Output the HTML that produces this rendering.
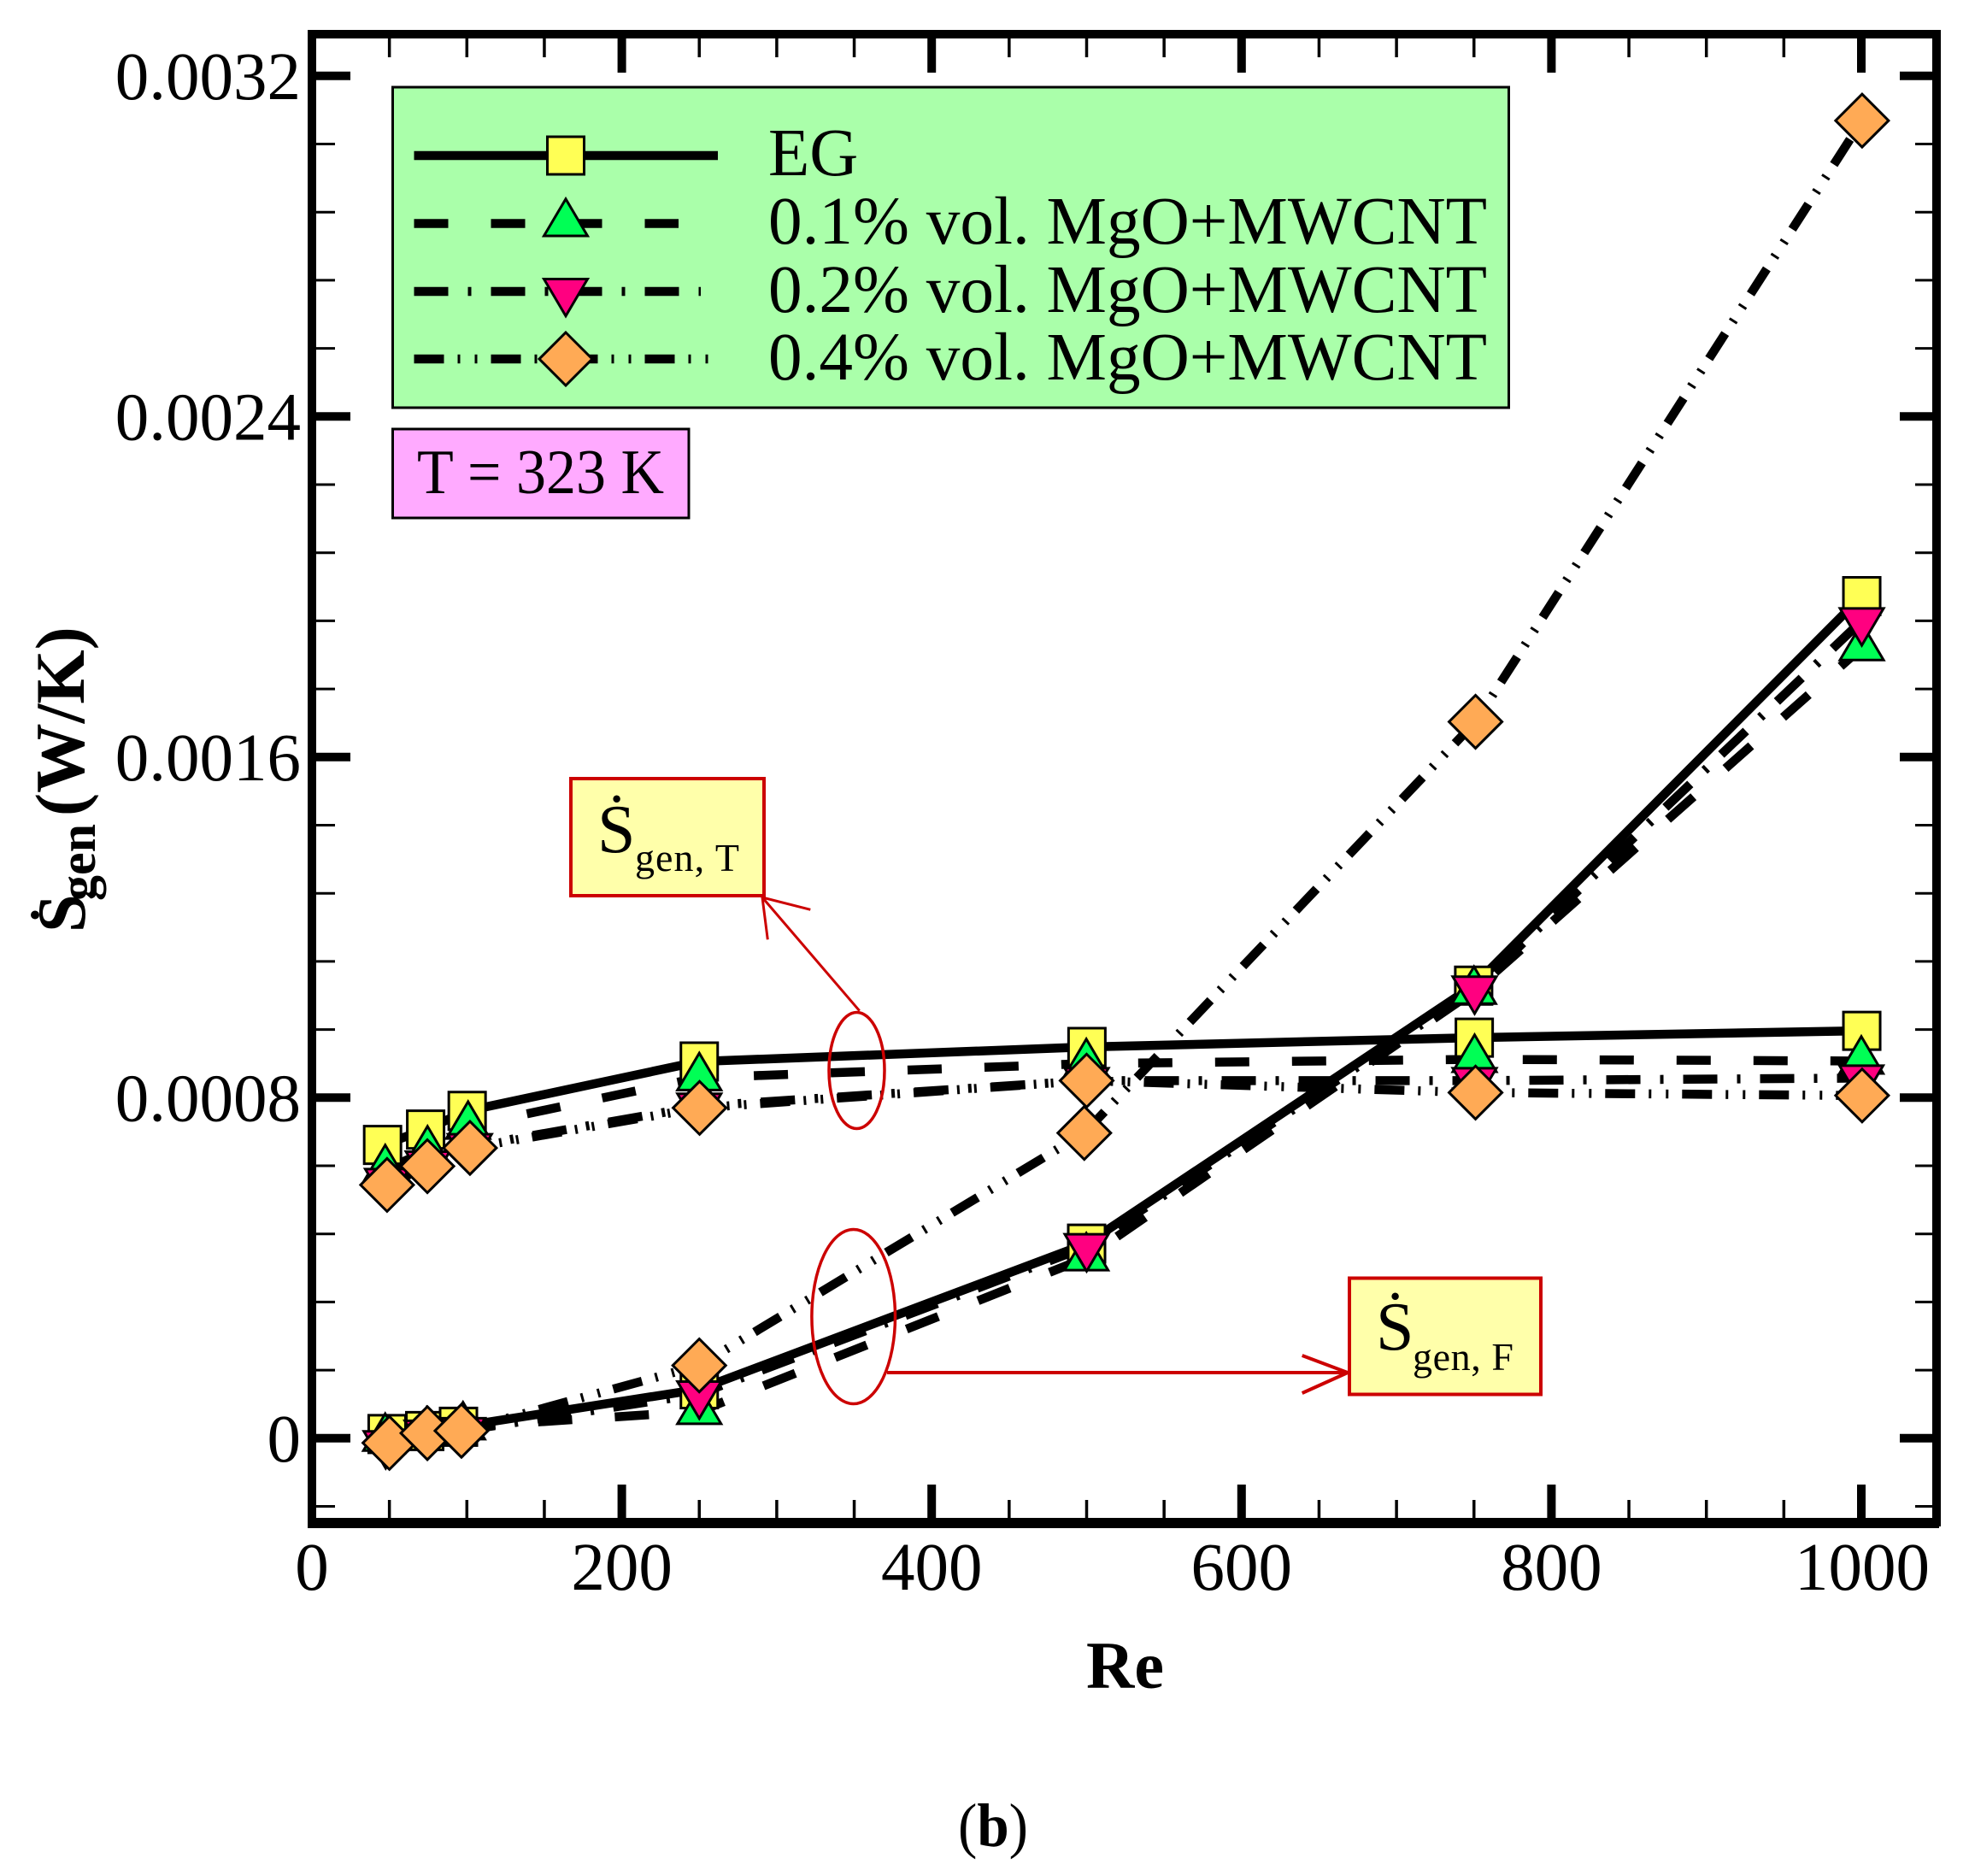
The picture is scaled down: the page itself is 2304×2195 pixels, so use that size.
<!DOCTYPE html>
<html lang="en">
<head>
<meta charset="utf-8">
<title>Entropy generation vs Re</title>
<style>
html,body{margin:0;padding:0;background:#fff;}
svg{display:block;font-family:"Liberation Serif","Times New Roman",serif;fill:#000;}
</style>
</head>
<body>
<svg id="chart" xmlns="http://www.w3.org/2000/svg" width="2304" height="2195" viewBox="0 0 2304 2195">
  <rect x="0" y="0" width="2304" height="2195" fill="#ffffff"/>
  <g id="ticks"></g>
  <g id="tick-labels" font-size="79"></g>
  <g id="lines" fill="none"></g>
  <g id="markers" stroke="#000" stroke-width="3"></g>

  <g fill="#000">
    <rect x="360" y="35" width="1911" height="10"/>
    <rect x="360" y="1776" width="1909" height="12"/>
    <rect x="360" y="35" width="10" height="1751"/>
    <rect x="2261" y="35" width="10" height="1751"/>
  </g>

  <g>
    <rect x="459.500" y="102" width="1306" height="375" fill="#AAFFAA" stroke="#000" stroke-width="3"/>
    <g id="legend-samples"></g>
    <text x="899" y="205" font-size="79">EG</text>
    <text x="899" y="285" font-size="79" textLength="841" lengthAdjust="spacingAndGlyphs">0.1% vol. MgO+MWCNT</text>
    <text x="899" y="365" font-size="79" textLength="841" lengthAdjust="spacingAndGlyphs">0.2% vol. MgO+MWCNT</text>
    <text x="899" y="444" font-size="79" textLength="841" lengthAdjust="spacingAndGlyphs">0.4% vol. MgO+MWCNT</text>
  </g>

  <g>
    <rect x="459.500" y="502" width="346.500" height="104" fill="#FFAAFF" stroke="#000" stroke-width="3"/>
    <text x="488" y="577" font-size="74" textLength="289" lengthAdjust="spacingAndGlyphs">T = 323 K</text>
  </g>

  <g fill="none" stroke="#CC0000">
    <ellipse cx="1002.500" cy="1252.500" rx="32.500" ry="68" stroke-width="3.500"/>
    <path d="M1005.700 1182.700L892 1050M948.300 1064.300L892 1050L898.300 1099.300" stroke-width="3"/>
    <rect x="668" y="911" width="226" height="137" fill="#FFFFAA" stroke-width="4"/>
    <text x="699" y="997" font-size="80" fill="#000" stroke="none">Ṡ</text>
    <text x="743" y="1019" font-size="46" fill="#000" stroke="none" xml:space="preserve" textLength="122" lengthAdjust="spacing">gen, T</text>
  </g>

  <g fill="none" stroke="#CC0000">
    <ellipse cx="998.700" cy="1540.500" rx="48.800" ry="102" stroke-width="3.500"/>
    <path d="M1038 1606H1577M1523.700 1586L1577 1606L1523.700 1630" stroke-width="4"/>
    <rect x="1579" y="1495.500" width="224" height="136" fill="#FFFFAA" stroke-width="4"/>
    <text x="1610" y="1579" font-size="80" fill="#000" stroke="none">Ṡ</text>
    <text x="1653" y="1603" font-size="46" fill="#000" stroke="none" xml:space="preserve" textLength="118" lengthAdjust="spacing">gen, F</text>
  </g>

  <g font-weight="bold">
    <text transform="translate(99 1091) rotate(-90)" font-size="80">S</text>
    <circle cx="41" cy="1070.500" r="5"/>
    <text transform="translate(111 1054) rotate(-90)" font-size="60">gen</text>
    <text transform="translate(98 955) rotate(-90)" font-size="81.500">(W/K)</text>
  </g>
  <text x="1271" y="1975" font-size="78">
    <tspan font-weight="bold">Re</tspan>
  </text>
  <text x="1121" y="2160" font-size="72" textLength="82" lengthAdjust="spacingAndGlyphs">(<tspan font-weight="bold">b</tspan>)</text>
</svg>
<script>
// ---------- chart data ----------
var xMajorTicks = [0, 200, 400, 600, 800, 1000];
var xMinorTicks = [50, 100, 150, 250, 300, 350, 450, 500, 550, 650, 700, 750, 850, 900, 950];
var yMajorTicks = [0, 0.0008, 0.0016, 0.0024, 0.0032];
var yMinorTicks = [-0.00016, 0.00016, 0.00032, 0.00048, 0.00064, 0.00096, 0.00112, 0.00128, 0.00144, 0.00176, 0.00192, 0.00208, 0.00224, 0.00256, 0.00272, 0.00288, 0.00304];
var xTickLabels = ['0', '200', '400', '600', '800', '1000'];
var yTickLabels = ['0', '0.0008', '0.0016', '0.0024', '0.0032'];

// Thermal entropy generation (upper group)
var thermalReEG = [45.6, 73.4, 100.2, 250, 500.2, 750.2, 1000.3];
var thermalEG   = [0.000689, 0.000725, 0.000769, 0.000885, 0.000919, 0.000941, 0.000957];
var thermalRe01 = [47.3, 74.6, 100.8, 250, 499.8, 750.4, 1000];
var thermal01   = [0.000631, 0.000675, 0.000733, 0.000847, 0.00088, 0.00089, 0.000886];
var thermalRe02 = [48.5, 74.8, 101.9, 250, 500, 750.4, 1000];
var thermal02   = [0.000603, 0.000644, 0.000685, 0.00078, 0.00084, 0.00084, 0.000846];
var thermalRe04 = [48.5, 74.5, 102, 250.2, 500, 751, 1000.5];
var thermal04   = [0.000595, 0.000639, 0.000682, 0.000776, 0.00084, 0.000812, 0.000805];

// Fluid-friction entropy generation (lower group)
var frictionReEG = [48.5, 72.8, 94.6, 250, 500, 749.8, 1000.3];
var frictionEG   = [0.00001, 0.000017, 0.000027, 0.000115, 0.000457, 0.001063, 0.001978];
var frictionRe01 = [47.3, 74, 97.5, 250, 499.8, 750, 1000.3];
var friction01   = [0, 0.000015, 0.000027, 0.000063, 0.000424, 0.00105, 0.001857];
var frictionRe02 = [47.6, 74, 97.6, 250, 500, 750.4, 1000.3];
var friction02   = [-0.000013, 0.000012, 0.000018, 0.000104, 0.00045, 0.001055, 0.00192];
var frictionRe04 = [50, 74.5, 96.5, 250, 498.5, 751, 1000.5];
var friction04   = [-0.000011, 0.000012, 0.0000175, 0.000171, 0.000717, 0.001683, 0.003095];

// ---------- axis functions ----------
function xScale(re) { return 365 + 1.813 * re; }
function yScale(v) { return 1682.8 - 498125 * v; }

var SVGNS = 'http://www.w3.org/2000/svg';
function make(tag, geometry, parent) {
  var node = document.createElementNS(SVGNS, tag);
  for (var key in geometry) { node.setAttribute(key, geometry[key]); }
  parent.appendChild(node);
  return node;
}

var styles = {
  eg: { dash: 'none', fill: '#FFFF55', shape: 'square' },
  v01: { dash: '40 50', fill: '#00FF55', shape: 'up' },
  v02: { dash: '40 23 4 23', fill: '#FF0080', shape: 'down' },
  v04: { dash: '35 16 3 17 3 16', fill: '#FFAA55', shape: 'diamond' }
};

function markerPath(shape, x, y) {
  if (shape === 'square') {
    return 'M' + (x - 21.5) + ' ' + (y - 22) + 'H' + (x + 21.5) + 'V' + (y + 22) + 'H' + (x - 21.5) + 'Z';
  }
  if (shape === 'up') {
    return 'M' + x + ' ' + (y - 28.7) + 'L' + (x + 25.5) + ' ' + (y + 14.5) + 'H' + (x - 25.5) + 'Z';
  }
  if (shape === 'down') {
    return 'M' + x + ' ' + (y + 28.7) + 'L' + (x + 25.5) + ' ' + (y - 14.5) + 'H' + (x - 25.5) + 'Z';
  }
  return 'M' + x + ' ' + (y - 31) + 'L' + (x + 31) + ' ' + y + 'L' + x + ' ' + (y + 31) + 'L' + (x - 31) + ' ' + y + 'Z';
}

// ---------- ticks ----------
var tickGroup = document.getElementById('ticks');
var labelGroup = document.getElementById('tick-labels');

function addXTick(re, top, bottom, width, kind) {
  var x = xScale(re);
  var a = make('line', { x1: x, x2: x, y1: top, y2: bottom, stroke: '#000', 'stroke-width': width }, tickGroup);
  
  
}
function addYTick(v, left, right, width, kind) {
  var y = yScale(v);
  var a = make('line', { x1: left, x2: right, y1: y, y2: y, stroke: '#000', 'stroke-width': width }, tickGroup);
  
  
}
xMajorTicks.forEach(function (re) {
  addXTick(re, 1737, 1776, 10, 'major');
  addXTick(re, 45, 85, 10, 'major-top');
});
xMinorTicks.forEach(function (re) {
  addXTick(re, 1755, 1776, 3.5, 'minor');
  addXTick(re, 45, 67, 3.5, 'minor-top');
});
yMajorTicks.forEach(function (v) {
  addYTick(v, 370, 410, 10, 'major');
  addYTick(v, 2223, 2261, 10, 'major-right');
});
yMinorTicks.forEach(function (v) {
  addYTick(v, 370, 392, 3, 'minor');
  addYTick(v, 2241, 2261, 3, 'minor-right');
});

xMajorTicks.forEach(function (re, i) {
  var t = make('text', { x: xScale(re) + (re === 1000 ? 1 : 0), y: 1860, 'text-anchor': 'middle' }, labelGroup);
  t.textContent = xTickLabels[i];
  
  
});
yMajorTicks.forEach(function (v, i) {
  var t = make('text', { x: 352, y: yScale(v) + 27, 'text-anchor': 'end' }, labelGroup);
  t.textContent = yTickLabels[i];
  
  
});

// ---------- series ----------
var lineGroup = document.getElementById('lines');
var markerGroup = document.getElementById('markers');

function drawLine(name, xs, ys, style) {
  var pts = xs.map(function (re, i) { return xScale(re) + ',' + yScale(ys[i]); }).join(' ');
  var p = make('polyline', { points: pts, stroke: '#000', 'stroke-width': 10.5, 'stroke-dasharray': style.dash }, lineGroup);
  
  
}
function drawMarkers(name, xs, ys, style) {
  xs.forEach(function (re, i) {
    var m = make('path', { d: markerPath(style.shape, xScale(re), yScale(ys[i])), fill: style.fill }, markerGroup);
    
    
  });
}

function drawAll(fn) {
  fn('friction-eg', frictionReEG, frictionEG, styles.eg);
  fn('friction-01', frictionRe01, friction01, styles.v01);
  fn('friction-02', frictionRe02, friction02, styles.v02);
  fn('friction-04', frictionRe04, friction04, styles.v04);
  fn('thermal-eg', thermalReEG, thermalEG, styles.eg);
  fn('thermal-01', thermalRe01, thermal01, styles.v01);
  fn('thermal-02', thermalRe02, thermal02, styles.v02);
  fn('thermal-04', thermalRe04, thermal04, styles.v04);
}
drawAll(drawLine);
drawAll(drawMarkers);

// ---------- legend samples ----------
var legendGroup = document.getElementById('legend-samples');
[['eg', 182, 840], ['v01', 261.5, 794], ['v02', 341, 820], ['v04', 420, 829]].forEach(function (row) {
  var st = styles[row[0]];
  var l = make('line', { x1: 484.5, x2: row[2], y1: row[1], y2: row[1], stroke: '#000', 'stroke-width': 10.5, 'stroke-dasharray': st.dash }, legendGroup);
  
  
  var m = make('path', { d: markerPath(st.shape, 662, row[1]), fill: st.fill, stroke: '#000', 'stroke-width': 3 }, legendGroup);
  
  
});
</script>
</body>
</html>
